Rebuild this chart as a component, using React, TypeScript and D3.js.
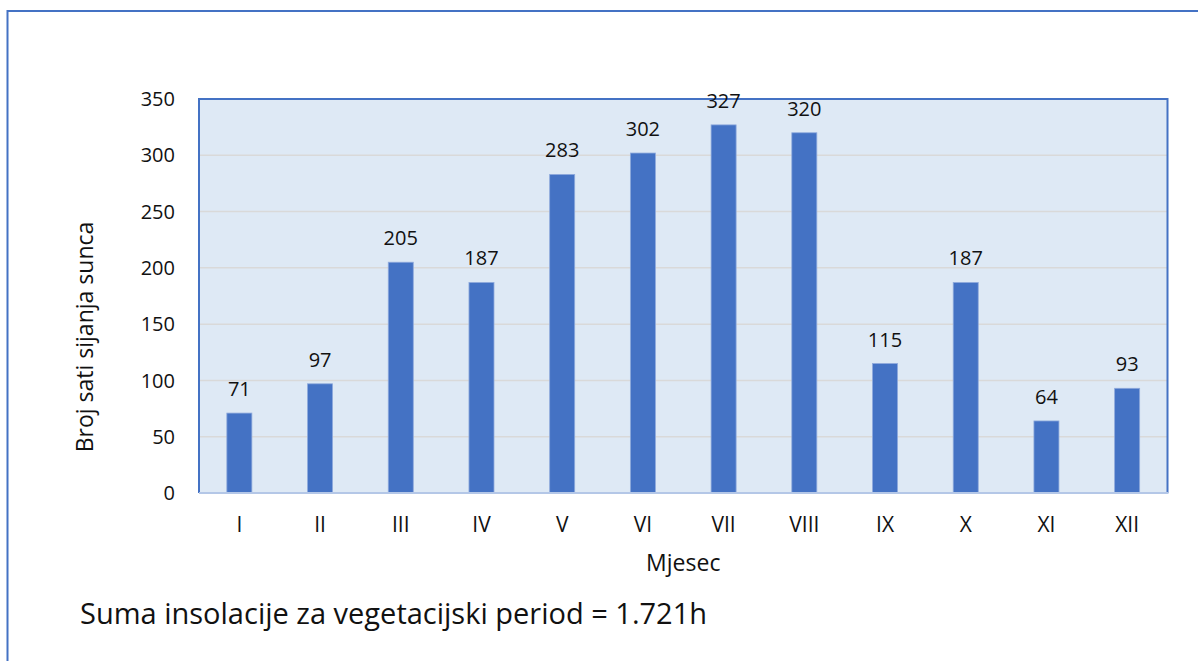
import { useRef, useEffect } from "react";
import * as d3 from "d3";

const months = ["I", "II", "III", "IV", "V", "VI", "VII", "VIII", "IX", "X", "XI", "XII"];
const hours = [71, 97, 205, 187, 283, 302, 327, 320, 115, 187, 64, 93];
const yTicks = [0, 50, 100, 150, 200, 250, 300, 350];

const width = 1198;
const height = 661;
const FONT = "'Open Sans', 'Noto Sans', sans-serif";

export default function App() {
  const ref = useRef<SVGSVGElement | null>(null);

  useEffect(() => {
    const svg = d3.select(ref.current);
    svg.selectAll("*").remove();

    const left = 199;
    const right = 1167.5;
    const top = 99;
    const bottom = 493;

    // outer frame (only left and top edges visible)
    svg
      .append("path")
      .attr("d", `M7.5,${height + 5} V11 H${width + 5}`)
      .attr("fill", "none")
      .attr("stroke", "#4472C4")
      .attr("stroke-width", 2);

    const x = d3.scaleBand<string>().domain(months).range([left, right]).paddingInner(0.69).paddingOuter(0.345);
    const band = d3.scaleBand<string>().domain(months).range([left, right]);
    const y = d3.scaleLinear().domain([0, 350]).range([bottom, top]);

    svg
      .append("rect")
      .attr("x", left)
      .attr("y", top)
      .attr("width", right - left)
      .attr("height", bottom - top)
      .attr("fill", "#DEE9F5");

    svg
      .append("g")
      .selectAll("line")
      .data(yTicks.filter((t) => t > 0 && t < 350))
      .join("line")
      .attr("x1", left)
      .attr("x2", right)
      .attr("y1", (d) => y(d))
      .attr("y2", (d) => y(d))
      .attr("stroke", "#D9D9D9")
      .attr("stroke-width", 1.5);

    svg
      .append("g")
      .selectAll("rect")
      .data(hours)
      .join("rect")
      .attr("x", (_, i) => x(months[i])!)
      .attr("y", (d) => y(d))
      .attr("width", x.bandwidth())
      .attr("height", (d) => bottom - y(d))
      .attr("fill", "#4472C4")
      .attr("stroke", "#8FAADC")
      .attr("stroke-width", 0.8);

    // plot border
    svg
      .append("path")
      .attr("d", `M${left},${bottom} V${top} H${right} V${bottom}`)
      .attr("fill", "none")
      .attr("stroke", "#4472C4")
      .attr("stroke-width", 2);
    svg
      .append("line")
      .attr("x1", left)
      .attr("x2", right + 1)
      .attr("y1", bottom)
      .attr("y2", bottom)
      .attr("stroke", "#B4C7E7")
      .attr("stroke-width", 2);

    // value labels
    svg
      .append("g")
      .selectAll("text")
      .data(hours)
      .join("text")
      .attr("x", (_, i) => band(months[i])! + band.bandwidth() / 2)
      .attr("y", (d) => y(d) - 17)
      .attr("text-anchor", "middle")
      .attr("font-family", FONT)
      .attr("font-size", 20)
      .attr("fill", "#111")
      .text((d) => d);

    // y tick labels
    svg
      .append("g")
      .selectAll("text")
      .data(yTicks)
      .join("text")
      .attr("x", 175)
      .attr("y", (d) => y(d))
      .attr("dy", "0.36em")
      .attr("text-anchor", "end")
      .attr("font-family", FONT)
      .attr("font-size", 20)
      .attr("fill", "#111")
      .text((d) => d);

    // x tick labels
    svg
      .append("g")
      .selectAll("text")
      .data(months)
      .join("text")
      .attr("x", (d) => band(d)! + band.bandwidth() / 2)
      .attr("y", 532)
      .attr("text-anchor", "middle")
      .attr("font-family", FONT)
      .attr("font-size", 21)
      .attr("fill", "#111")
      .text((d) => d);

    svg
      .append("text")
      .attr("x", (left + right) / 2)
      .attr("y", 571)
      .attr("text-anchor", "middle")
      .attr("font-family", FONT)
      .attr("font-size", 23)
      .attr("fill", "#111")
      .text("Mjesec");

    svg
      .append("text")
      .attr("transform", `translate(93,337) rotate(-90)`)
      .attr("text-anchor", "middle")
      .attr("font-family", FONT)
      .attr("font-size", 23)
      .attr("fill", "#111")
      .text("Broj sati sijanja sunca");

    svg
      .append("text")
      .attr("x", 80)
      .attr("y", 624)
      .attr("font-family", FONT)
      .attr("font-size", 29)
      .attr("fill", "#111")
      .text("Suma insolacije za vegetacijski period = 1.721h");
  }, []);

  return (
    <svg
      ref={ref}
      width={width}
      height={height}
      style={{ position: "absolute", left: 0, top: 0, background: "#fff" }}
    />
  );
}
